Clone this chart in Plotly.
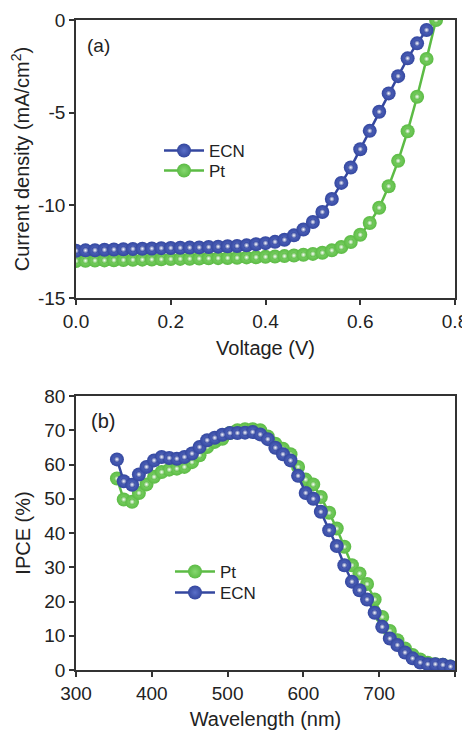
import plotly.graph_objects as go

# ---------------- data ----------------
voltage_ecn = [0.00, 0.02, 0.04, 0.06, 0.08, 0.10, 0.12, 0.14, 0.16, 0.18, 0.20,
               0.22, 0.24, 0.26, 0.28, 0.30, 0.32, 0.34, 0.36, 0.38, 0.40,
               0.42, 0.44, 0.46, 0.48, 0.50, 0.52, 0.54, 0.56, 0.58, 0.60,
               0.62, 0.64, 0.66, 0.68, 0.70, 0.72, 0.74]
jsc_ecn = [-12.45, -12.43, -12.42, -12.40, -12.38, -12.37, -12.35, -12.34, -12.33, -12.31, -12.30,
           -12.29, -12.28, -12.27, -12.25, -12.23, -12.21, -12.19, -12.16, -12.10, -12.04,
           -11.97, -11.86, -11.62, -11.30, -10.90, -10.36, -9.66, -8.79, -7.96, -6.97,
           -5.98, -4.95, -3.96, -3.03, -2.07, -1.26, -0.54]

voltage_pt = [0.00, 0.02, 0.04, 0.06, 0.08, 0.10, 0.12, 0.14, 0.16, 0.18, 0.20,
              0.22, 0.24, 0.26, 0.28, 0.30, 0.32, 0.34, 0.36, 0.38, 0.40,
              0.42, 0.44, 0.46, 0.48, 0.50, 0.52, 0.54, 0.56, 0.58, 0.60,
              0.62, 0.64, 0.66, 0.68, 0.70, 0.72, 0.74, 0.76]
jsc_pt = [-13.00, -12.99, -12.98, -12.97, -12.96, -12.95, -12.94, -12.93, -12.92, -12.91, -12.90,
          -12.89, -12.88, -12.87, -12.86, -12.85, -12.84, -12.83, -12.81, -12.80, -12.78,
          -12.76, -12.74, -12.71, -12.67, -12.62, -12.56, -12.43, -12.25, -11.98, -11.59,
          -10.95, -10.13, -8.97, -7.60, -6.00, -4.14, -2.10, 0.00]

wavelength = [354, 363, 374, 383, 393, 403, 413, 423, 433, 443, 453, 463, 473, 483, 493,
              503, 513, 523, 533, 543, 553, 563, 573, 583, 593, 603, 613, 623, 634, 644,
              654, 664, 674, 684, 694, 704, 714, 724, 734, 744, 754, 764, 774, 784, 794]
ipce_ecn = [61.5, 55.1, 54.1, 57.1, 59.3, 61.2, 62.2, 61.9, 61.7, 62.2, 63.2, 65.1, 67.1, 67.8, 68.7,
            69.2, 69.2, 69.3, 69.5, 68.8, 67.4, 64.9, 63.0, 61.2, 56.7, 51.7, 50.0, 46.2, 40.8, 36.2,
            30.6, 25.8, 23.3, 20.6, 16.7, 12.6, 9.2, 7.3, 5.1, 3.4, 2.2, 1.7, 1.7, 1.5, 1.0]
ipce_pt = [55.9, 49.8, 49.1, 51.7, 54.2, 56.4, 57.8, 58.5, 58.8, 59.3, 60.7, 62.7, 65.1, 66.6, 67.5,
           69.2, 70.0, 70.3, 70.3, 70.0, 68.2, 66.1, 64.6, 63.0, 59.3, 55.6, 54.2, 50.5, 45.9, 41.3,
           36.0, 30.6, 28.2, 25.1, 20.6, 15.5, 11.4, 8.7, 6.3, 4.4, 3.1, 2.1, 1.7, 1.5, 1.0]

jv_yticks = [0, -5, -10, -15]
jv_yticktext = ["0", "-5", "-10", "-15"]
jv_xticks = [0.0, 0.2, 0.4, 0.6, 0.8]
jv_xticktext = ["0.0", "0.2", "0.4", "0.6", "0.8"]
ipce_yticks = [0, 10, 20, 30, 40, 50, 60, 70, 80]
ipce_xticks = [300, 400, 500, 600, 700, 800]

# ---------------- style ----------------
BLUE = "#34479f"
BLUE_LIGHT = "#5a6fc8"
GREEN = "#5cbb45"
GREEN_LIGHT = "#86d870"
FONT = "Liberation Sans, Arial, sans-serif"
TXT = "#222222"
TICK_SIZE = 19
TITLE_SIZE = 20
LEG_SIZE = 17


def ball_trace(x, y, name, color, light, xaxis, yaxis, legend):
    return go.Scatter(
        x=x, y=y, name=name, mode="lines+markers",
        xaxis=xaxis, yaxis=yaxis, legend=legend,
        line=dict(color=color, width=2.5),
        marker=dict(size=14, color=color,
                    gradient=dict(type="radial", color=light),
                    line=dict(width=0)),
    )


def highlight_trace(x, y, color, xaxis, yaxis):
    return go.Scatter(
        x=x, y=y, mode="markers", showlegend=False, hoverinfo="skip",
        xaxis=xaxis, yaxis=yaxis,
        marker=dict(size=6, color=color,
                    gradient=dict(type="radial", color="white"),
                    line=dict(width=0)),
    )


fig = go.Figure()
# (a) J-V
fig.add_trace(ball_trace(voltage_pt, jsc_pt, "Pt", GREEN, GREEN_LIGHT, "x", "y", "legend2"))
fig.add_trace(highlight_trace(voltage_pt, jsc_pt, GREEN, "x", "y"))
fig.add_trace(ball_trace(voltage_ecn, jsc_ecn, "ECN", BLUE, BLUE_LIGHT, "x", "y", "legend"))
fig.add_trace(highlight_trace(voltage_ecn, jsc_ecn, BLUE, "x", "y"))
# (b) IPCE
fig.add_trace(ball_trace(wavelength, ipce_pt, "Pt", GREEN, GREEN_LIGHT, "x2", "y2", "legend3"))
fig.add_trace(highlight_trace(wavelength, ipce_pt, GREEN, "x2", "y2"))
fig.add_trace(ball_trace(wavelength, ipce_ecn, "ECN", BLUE, BLUE_LIGHT, "x2", "y2", "legend4"))
fig.add_trace(highlight_trace(wavelength, ipce_ecn, BLUE, "x2", "y2"))

axis_common = dict(
    showline=True, linecolor="#333333", linewidth=1.5, mirror=True,
    ticks="outside", ticklen=5, tickwidth=1.5, tickcolor="#333333",
    showgrid=False, zeroline=False, automargin=False,
    tickfont=dict(family=FONT, size=TICK_SIZE, color=TXT),
    title_font=dict(family=FONT, size=TITLE_SIZE, color=TXT),
)


def leg(x, y):
    return dict(x=x, y=y, xanchor="left", yanchor="middle",
                bgcolor="rgba(0,0,0,0)", itemwidth=40, tracegroupgap=0,
                font=dict(family=FONT, size=LEG_SIZE, color=TXT))


# the page body adds an 8 px offset, so the figure is 8 px smaller
fig.update_layout(
    width=462, height=722,
    margin=dict(l=68, r=15, t=12, b=60),
    paper_bgcolor="white", plot_bgcolor="white",
    font=dict(family=FONT, color=TXT),
    xaxis=dict(axis_common, domain=[0, 1], anchor="y", range=[0, 0.8],
               tickvals=jv_xticks, ticktext=jv_xticktext,
               title=dict(text="Voltage (V)", standoff=10)),
    yaxis=dict(axis_common, domain=[0.5723, 1], anchor="x", range=[-15, 0],
               tickvals=jv_yticks, ticktext=jv_yticktext,
               title=dict(text="Current density (mA/cm<sup>2</sup>)", standoff=6)),
    xaxis2=dict(axis_common, domain=[0, 1], anchor="y2", range=[300, 800],
                tickvals=ipce_xticks,
                title=dict(text="Wavelength (nm)", standoff=10)),
    yaxis2=dict(axis_common, domain=[0, 0.4215], anchor="x2", range=[0, 80],
                tickvals=ipce_yticks,
                title=dict(text="IPCE (%)", standoff=8)),
    legend=leg(0.219, 0.7985),
    legend2=leg(0.219, 0.7677),
    legend3=leg(0.248, 0.1508),
    legend4=leg(0.248, 0.1185),
    annotations=[
        dict(text="(a)", x=0.025, y=0.91, xref="x domain", yref="y domain",
             showarrow=False, xanchor="left", yanchor="middle",
             font=dict(family=FONT, size=19, color=TXT)),
        dict(text="(b)", x=0.035, y=0.91, xref="x2 domain", yref="y2 domain",
             showarrow=False, xanchor="left", yanchor="middle",
             font=dict(family=FONT, size=20, color=TXT)),
    ],
    showlegend=True,
)

fig.write_html("out.html")
